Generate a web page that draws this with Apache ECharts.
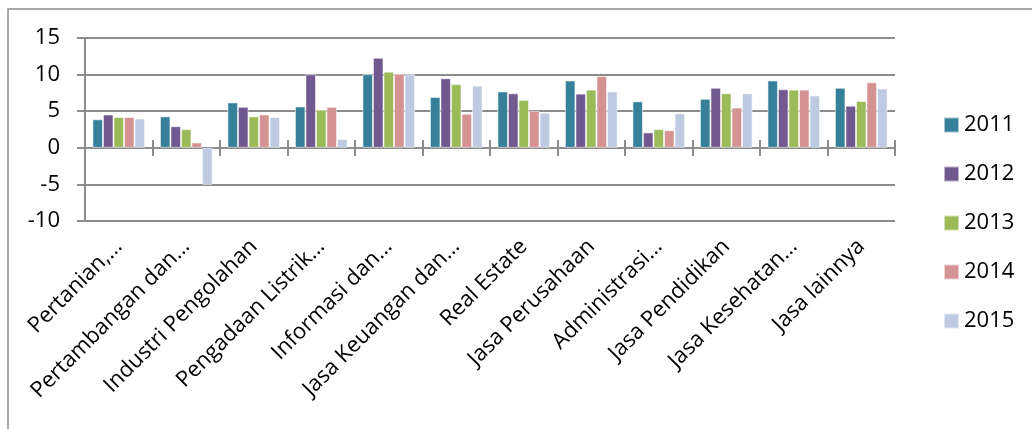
<!DOCTYPE html>
<html lang="en">
<head>
    <meta charset="UTF-8">
    <title>Pertumbuhan Sektor 2011-2015</title>
    <script src="https://cdn.jsdelivr.net/npm/echarts@6/dist/echarts.min.js"></script>
    <style>
        html, body { margin: 0; padding: 0; background: #fff; }
    </style>
</head>
<body>
    <div id="main" style="width: 1032px;height:429px;"></div>
    <script type="text/javascript">
      // categories on the x axis (truncated like in the original chart)
      var categories = ["Pertanian,...", "Pertambangan dan...", "Industri Pengolahan", "Pengadaan Listrik...",
        "Informasi dan...", "Jasa Keuangan dan...", "Real Estate", "Jasa Perusahaan",
        "Administrasi...", "Jasa Pendidikan", "Jasa Kesehatan...", "Jasa lainnya"];

      var years = ["2011", "2012", "2013", "2014", "2015"];

      // values
      var data2011 = [3.9, 4.3, 6.2, 5.65, 10.05, 6.95, 7.7, 9.2, 6.35, 6.7, 9.2, 8.2];
      var data2012 = [4.55, 2.95, 5.6, 10.05, 12.3, 9.5, 7.45, 7.4, 2.1, 8.2, 8.0, 5.75];
      var data2013 = [4.2, 2.55, 4.3, 5.2, 10.4, 8.7, 6.55, 7.95, 2.55, 7.45, 7.95, 6.4];
      var data2014 = [4.2, 0.73, 4.55, 5.6, 10.1, 4.65, 5.05, 9.8, 2.4, 5.5, 7.95, 8.95];
      var data2015 = [4.0, -5.05, 4.2, 1.2, 10.05, 8.5, 4.8, 7.7, 4.7, 7.45, 7.15, 8.1];

      var colors = ['#37809A', '#71588F', '#9BBB59', '#D49392', '#BDCAE2'];
      var allData = [data2011, data2012, data2013, data2014, data2015];

      var font = '"Open Sans", "DejaVu Sans", sans-serif';
      var gray = '#8c8c8c';

      var myChart = echarts.init(document.getElementById('main'));

      var series = years.map(function (y, i) {
        return {
          name: y,
          type: 'bar',
          xAxisIndex: 0,
          yAxisIndex: 0,
          data: allData[i],
          barGap: '0%',
          barCategoryGap: '22%',
          itemStyle: { color: colors[i], borderColor: 'rgba(255,255,255,0.55)', borderWidth: 1 }
        };
      });

      var option = {
        animation: false,
        color: colors,
        grid: [
          { left: 85, right: 137, top: 38, bottom: 208, containLabel: false },
          // thin strip around the zero line, only used for the crossing ticks
          { left: 85, right: 137, top: 140, height: 16, containLabel: false }
        ],
        legend: {
          orient: 'vertical',
          left: 938,
          top: 109,
          itemWidth: 15,
          itemHeight: 15,
          itemGap: 27,
          icon: 'rect',
          textStyle: { fontFamily: font, fontSize: 22, color: '#000', lineHeight: 22 },
          data: years
        },
        xAxis: [
          {
            // labels at the bottom of the plot
            type: 'category',
            gridIndex: 0,
            data: categories,
            position: 'bottom',
            axisLine: { show: false, onZero: false },
            axisTick: { show: false },
            axisLabel: {
              rotate: 45,
              interval: 0,
              margin: 22,
              fontFamily: font,
              fontSize: 22,
              color: '#000'
            }
          },
          {
            // the zero line
            type: 'category',
            gridIndex: 0,
            data: categories,
            position: 'bottom',
            axisLine: { show: true, onZero: true, lineStyle: { color: gray, width: 2 } },
            axisTick: { show: false },
            axisLabel: { show: false }
          },
          {
            // ticks crossing the zero line
            type: 'category',
            gridIndex: 1,
            data: categories,
            position: 'bottom',
            axisLine: { show: false, onZero: false },
            axisTick: { show: true, inside: true, interval: 0, length: 16, lineStyle: { color: gray, width: 2 } },
            axisLabel: { show: false }
          }
        ],
        yAxis: [
          {
            type: 'value',
            gridIndex: 0,
            min: -10,
            max: 15,
            interval: 5,
            axisLine: { show: true, lineStyle: { color: gray, width: 2 } },
            axisTick: { show: true, length: 8, lineStyle: { color: gray, width: 2 } },
            splitLine: { show: true, lineStyle: { color: gray, width: 2 } },
            axisLabel: { margin: 25, fontFamily: font, fontSize: 22, color: '#000' }
          },
          {
            type: 'value',
            gridIndex: 1,
            show: false
          }
        ],
        graphic: [
          {
            type: 'rect',
            silent: true,
            shape: { x: 8, y: 9, width: 1200, height: 600 },
            style: { fill: 'none', stroke: gray, lineWidth: 1.5 }
          }
        ],
        series: series
      };

      myChart.setOption(option);
    </script>
</body>
</html>
